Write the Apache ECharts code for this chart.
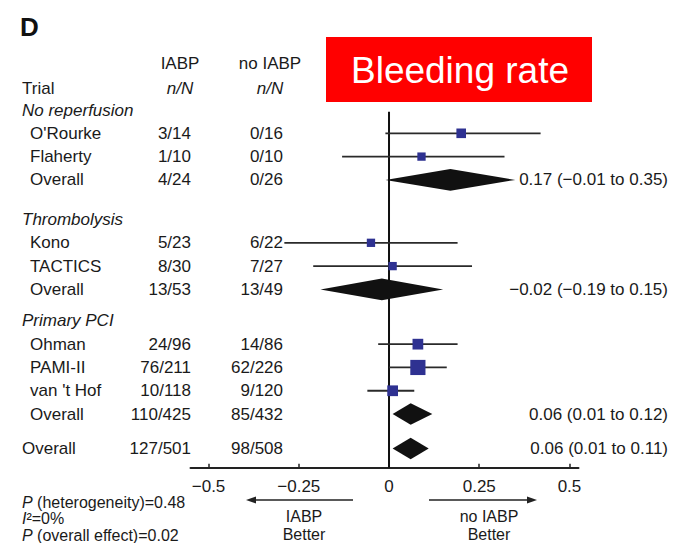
<!DOCTYPE html>
<html>
<head>
<meta charset="utf-8">
<script src="https://cdn.jsdelivr.net/npm/echarts@6/dist/echarts.min.js"></script>
<style>
html,body{margin:0;padding:0;background:#fff;}
#chart{width:673px;height:543px;}
</style>
</head>
<body>
<div id="chart"></div>
<script>
// ---------------- data ----------------
const groupNames   = ['No reperfusion', 'Thrombolysis', 'Primary PCI'];
const trialNames   = ["O'Rourke", 'Flaherty', 'Kono', 'TACTICS', 'Ohman', 'PAMI-II', "van 't Hof"];
const trialGroup   = [0, 0, 1, 1, 2, 2, 2];
const iabpEvents   = ['3/14', '1/10', '5/23', '8/30', '24/96', '76/211', '10/118'];
const noIabpEvents = ['0/16', '0/10', '6/22', '7/27', '14/86', '62/226', '9/120'];
const riskDiff     = [0.20, 0.09, -0.05, 0.01, 0.08, 0.08, 0.01];
const ciLower      = [-0.01, -0.13, -0.29, -0.21, -0.03, 0.00, -0.06];
const ciUpper      = [0.42, 0.32, 0.19, 0.23, 0.19, 0.16, 0.07];
const weights      = [4, 3, 3, 3, 5, 10, 5];

const subIabp      = ['4/24', '13/53', '110/425'];
const subNoIabp    = ['0/26', '13/49', '85/432'];
const subDiff      = [0.17, -0.02, 0.06];
const subLower     = [-0.01, -0.19, 0.01];
const subUpper     = [0.35, 0.15, 0.12];

const totalIabp    = '127/501';
const totalNoIabp  = '98/508';
const totalDiff    = 0.06;
const totalLower   = 0.01;
const totalUpper   = 0.11;

const tickValues   = [-0.5, -0.25, 0, 0.25, 0.5];
const tickLabels   = ['\u22120.5', '\u22120.25', '0', '0.25', '0.5'];

const statLines = [
  ['P', ' (heterogeneity)=0.48'],
  ['I', '\u00b2=0%'],
  ['P', ' (overall effect)=0.02']
];
const directionLabels = [['IABP', 'Better'], ['no IABP', 'Better']];

// ---------------- layout / style constants ----------------
const FONT = '"Liberation Sans", Arial, Helvetica, sans-serif';
const TXT = '#1a1a1a';
const GROUP_GAP = [0.7, 0.35, 0.48];
const ROW_PX = 23.3;
const GRID_TOP = 110, AXIS_Y = 467.7;
const Y_MAX = (AXIS_Y - GRID_TOP) / ROW_PX;

function fmt(v) { return (v < 0 ? '\u2212' : '') + Math.abs(v).toFixed(2); }

// ---------------- build rows ----------------
const rows = [];
let pos = 0;
groupNames.forEach((g, gi) => {
  rows.push({ kind: 'header', label: g, pos: pos });
  pos += 1;
  trialNames.forEach((t, i) => {
    if (trialGroup[i] !== gi) return;
    rows.push({ kind: 'trial', label: t, a: iabpEvents[i], b: noIabpEvents[i],
                est: riskDiff[i], lo: ciLower[i], hi: ciUpper[i], w: weights[i], pos: pos });
    pos += 1;
  });
  rows.push({ kind: 'sub', label: 'Overall', a: subIabp[gi], b: subNoIabp[gi],
              est: subDiff[gi], lo: subLower[gi], hi: subUpper[gi], pos: pos });
  pos += 1 + GROUP_GAP[gi];
});
rows.push({ kind: 'total', label: 'Overall', a: totalIabp, b: totalNoIabp,
            est: totalDiff, lo: totalLower, hi: totalUpper, pos: pos });

function txt(x, y, text, extra) {
  return { type: 'text', x: x, y: y,
    style: Object.assign({ text: text, fill: TXT, fontSize: 17, fontFamily: FONT,
      textAlign: 'left', textVerticalAlign: 'middle' }, extra || {}) };
}
function gtxt(x, y, text, extra) {
  return { type: 'text', x: x, y: y,
    style: Object.assign({ text: text, fill: TXT, fontSize: 17, fontFamily: FONT,
      textAlign: 'center', textVerticalAlign: 'middle' }, extra || {}) };
}
function richLines(x, y, lines, align) {
  return { type: 'text', x: x, y: y,
    style: { text: lines.map(l => '{n|' + l + '}').join('\n'), fill: TXT, fontSize: 16, fontFamily: FONT,
      textAlign: align, textVerticalAlign: 'middle', lineHeight: 17.5,
      rich: { n: { fontSize: 16, fontFamily: FONT, fill: TXT, lineHeight: 17.5, align: align } } } };
}

// ---------------- chart ----------------
const chart = echarts.init(document.getElementById('chart'), null, { renderer: 'svg' });

const tableData = rows.map((r, i) => [0, r.pos, i]);
const markData = rows.filter(r => r.kind !== 'header').map(r => [r.est, r.pos, rows.indexOf(r)]);

chart.setOption({
  animation: false,
  backgroundColor: '#fff',
  grid: { left: 190.5, right: 94.5, top: GRID_TOP, bottom: 543 - AXIS_Y },
  xAxis: {
    type: 'value', min: -0.55, max: 0.525,
    axisLine: { show: true, onZero: false, lineStyle: { color: '#222', width: 2 } },
    axisTick: { show: true, inside: true, length: 4, customValues: tickValues,
                lineStyle: { color: '#222', width: 1.5 } },
    axisLabel: { show: true, customValues: tickValues, margin: 10,
                 color: TXT, fontSize: 17, fontFamily: FONT,
                 formatter: v => { const k = tickValues.findIndex(t => Math.abs(t - v) < 1e-9); return k >= 0 ? tickLabels[k] : ''; } },
    splitLine: { show: false }
  },
  yAxis: { type: 'value', inverse: true, min: 0, max: Y_MAX, show: false, splitLine: { show: false } },
  graphic: [
    gtxt(20, 27, 'D', { fill: '#111', fontSize: 26, fontWeight: 'bold', textAlign: 'left' }),
    gtxt(180, 63, 'IABP'),
    gtxt(270, 63, 'no IABP'),
    gtxt(22, 88, 'Trial', { textAlign: 'left' }),
    gtxt(180, 88, 'n/N', { fontStyle: 'italic' }),
    gtxt(270, 88, 'n/N', { fontStyle: 'italic' }),
    { type: 'rect', shape: { x: 326, y: 37, width: 266, height: 65 }, style: { fill: '#ff0000' } },
    gtxt(460, 70, 'Bleeding rate', { fill: '#fff', fontSize: 37 }),
    // direction arrows
    { type: 'line', shape: { x1: 353, y1: 500, x2: 254, y2: 500 }, style: { stroke: '#222', lineWidth: 1.5 } },
    { type: 'polygon', shape: { points: [[246, 500], [256, 496.5], [256, 503.5]] }, style: { fill: '#222' } },
    { type: 'line', shape: { x1: 429, y1: 500, x2: 529, y2: 500 }, style: { stroke: '#222', lineWidth: 1.5 } },
    { type: 'polygon', shape: { points: [[537, 500], [527, 496.5], [527, 503.5]] }, style: { fill: '#222' } },
    richLines(304, 525.5, directionLabels[0], 'center'),
    richLines(489, 525.5, directionLabels[1], 'center'),
    {
      type: 'text', x: 22, y: 518.6,
      style: { text: statLines.map(ln => '{i|' + ln[0] + '}{n|' + ln[1] + '}').join('\n'),
        fill: TXT, fontSize: 16, fontFamily: FONT, textVerticalAlign: 'middle', lineHeight: 16.6,
        rich: { i: { fontStyle: 'italic', fontSize: 16, fontFamily: FONT, fill: TXT, lineHeight: 16.6 },
                n: { fontSize: 16, fontFamily: FONT, fill: TXT, lineHeight: 16.6 } } }
    }
  ],
  series: [
    {
      type: 'custom', name: 'zero', silent: true, clip: false,
      data: [[0, 0]],
      renderItem: function (params, api) {
        const p0 = api.coord([0, 0.07]);
        const p1 = api.coord([0, Y_MAX]);
        return { type: 'line', shape: { x1: p0[0], y1: p0[1], x2: p1[0], y2: p1[1] },
                 style: { stroke: '#111', lineWidth: 2 } };
      }
    },
    {
      type: 'custom', name: 'table', silent: true, clip: false,
      data: tableData,
      renderItem: function (params, api) {
        const r = rows[api.value(2)];
        const y = api.coord([0, r.pos])[1];
        const children = [];
        if (r.kind === 'header') {
          children.push(txt(22, y, r.label, { fontStyle: 'italic' }));
        } else {
          const nx = r.kind === 'total' ? 22 : 30;
          children.push(txt(nx, y, r.label));
          children.push(txt(191, y, r.a, { textAlign: 'right' }));
          children.push(txt(283, y, r.b, { textAlign: 'right' }));
          if (r.kind === 'sub' || r.kind === 'total') {
            children.push(txt(668, y, fmt(r.est) + ' (' + fmt(r.lo) + ' to ' + fmt(r.hi) + ')', { textAlign: 'right' }));
          }
        }
        return { type: 'group', children: children };
      }
    },
    {
      type: 'custom', name: 'forest', silent: true, clip: false,
      data: markData,
      renderItem: function (params, api) {
        const r = rows[api.value(2)];
        const pc = api.coord([r.est, r.pos]);
        const pl = api.coord([r.lo, r.pos]);
        const ph = api.coord([r.hi, r.pos]);
        if (r.kind === 'trial') {
          const s = 4.8 * Math.sqrt(r.w);
          return { type: 'group', children: [
            { type: 'line', shape: { x1: pl[0], y1: pl[1], x2: ph[0], y2: ph[1] }, style: { stroke: '#2a2a2a', lineWidth: 1.8 } },
            { type: 'rect', shape: { x: pc[0] - s / 2, y: pc[1] - s / 2, width: s, height: s }, style: { fill: '#2e3191' } }
          ] };
        }
        const h = 10.8;
        return { type: 'polygon',
          shape: { points: [[pl[0], pl[1]], [pc[0], pc[1] - h], [ph[0], ph[1]], [pc[0], pc[1] + h]] },
          style: { fill: '#111' } };
      }
    }
  ]
});
</script>
</body>
</html>
